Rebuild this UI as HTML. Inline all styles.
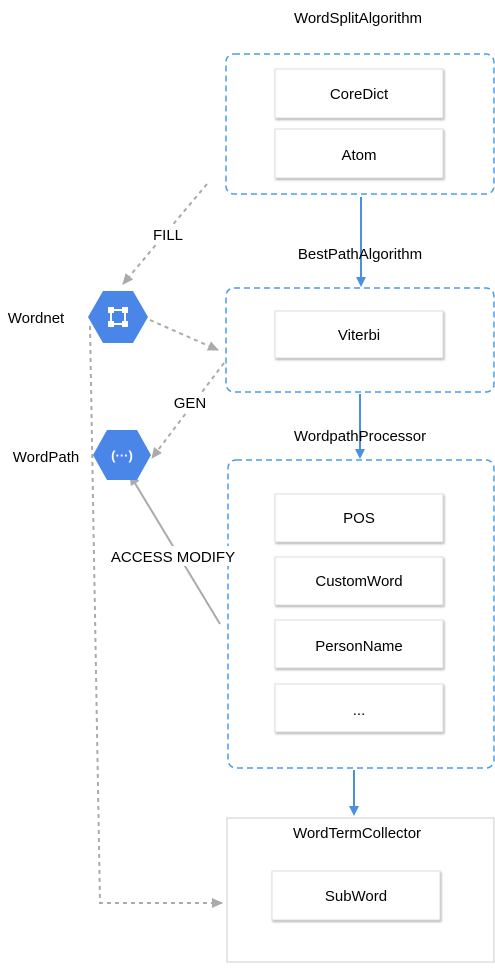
<!DOCTYPE html>
<html><head><style>body{margin:0;background:#fff}svg{display:block}</style></head><body>
<svg width="495" height="968" viewBox="0 0 495 968" xmlns="http://www.w3.org/2000/svg" font-family="Liberation Sans, sans-serif" font-size="15">
<defs>
<marker id="ab" markerWidth="10" markerHeight="10" refX="8" refY="5" orient="auto" markerUnits="userSpaceOnUse"><path d="M0,0L10,5L0,10z" fill="#4a90e2"/></marker>
<marker id="ag" markerWidth="12" markerHeight="12" refX="10" refY="6" orient="auto" markerUnits="userSpaceOnUse"><path d="M0,1L11,6L0,11z" fill="#aaa"/></marker>
<filter id="sh"><feDropShadow dx="1" dy="1.5" stdDeviation="1" flood-color="#000" flood-opacity="0.3"/></filter>
</defs>
<g fill="none" stroke="#4a9bf0" stroke-width="1.5" stroke-dasharray="6,4">
<rect x="226" y="54" width="268" height="140" rx="8"/>
<rect x="226" y="288" width="268" height="104" rx="8"/>
<rect x="228" y="460" width="266" height="308" rx="8"/>
</g>
<rect x="227" y="818" width="267" height="144" fill="#fff" stroke="#ccc"/>
<g fill="#fff" stroke="#ddd" filter="url(#sh)">
<rect x="275" y="69" width="168" height="49"/>
<rect x="275" y="129" width="168" height="49"/>
<rect x="275" y="311" width="168" height="47"/>
<rect x="275" y="494" width="168" height="48"/>
<rect x="275" y="557" width="168" height="48"/>
<rect x="275" y="620" width="168" height="48"/>
<rect x="275" y="684" width="168" height="48"/>
<rect x="272" y="871" width="168" height="49"/>
</g>
<g stroke="#4a90e2" stroke-width="2" marker-end="url(#ab)">
<line x1="361" y1="197" x2="361" y2="285"/>
<line x1="360" y1="394" x2="360" y2="457"/>
<line x1="354" y1="770" x2="354" y2="814"/>
</g>
<g stroke="#aaa" stroke-width="2" fill="none" stroke-dasharray="4,4" marker-end="url(#ag)">
<line x1="207" y1="184" x2="123" y2="284"/>
<line x1="150" y1="320" x2="218" y2="350"/>
<line x1="224" y1="363" x2="152" y2="458"/>
<polyline points="90,326 100,903 222,903"/>
</g>
<line x1="220" y1="624" x2="130" y2="475" stroke="#aaa" stroke-width="2" marker-end="url(#ag)"/>
<g fill="#fff">
<rect x="148" y="224" width="40" height="20"/>
<rect x="170" y="392" width="40" height="20"/>
<rect x="103" y="546" width="140" height="20"/>
</g>
<g text-anchor="middle" fill="#000">
<text x="359" y="99">CoreDict</text>
<text x="359" y="160">Atom</text>
<text x="359" y="340">Viterbi</text>
<text x="359" y="523">POS</text>
<text x="359" y="586">CustomWord</text>
<text x="359" y="651">PersonName</text>
<text x="359" y="715">...</text>
<text x="356" y="901">SubWord</text>
<text x="358" y="23">WordSplitAlgorithm</text>
<text x="360" y="259">BestPathAlgorithm</text>
<text x="360" y="441">WordpathProcessor</text>
<text x="357" y="838">WordTermCollector</text>
<text x="168" y="240">FILL</text>
<text x="190" y="408">GEN</text>
<text x="173" y="562">ACCESS MODIFY</text>
<text x="36" y="323">Wordnet</text>
<text x="46" y="462">WordPath</text>
</g>
<polygon points="88,317 103,291 133,291 148,317 133,343 103,343" fill="#4a86e8"/>
<g fill="#fff"><rect x="108" y="307" width="6" height="6"/><rect x="122" y="307" width="6" height="6"/><rect x="108" y="321" width="6" height="6"/><rect x="122" y="321" width="6" height="6"/></g>
<rect x="111" y="310" width="14" height="14" fill="none" stroke="#fff" stroke-width="2"/>
<polygon points="93,455 107,430 137,430 151,455 137,480 107,480" fill="#4a86e8"/>
<text x="122" y="460" text-anchor="middle" fill="#fff" font-size="13" font-weight="bold">(···)</text>
</svg>
</body></html>
